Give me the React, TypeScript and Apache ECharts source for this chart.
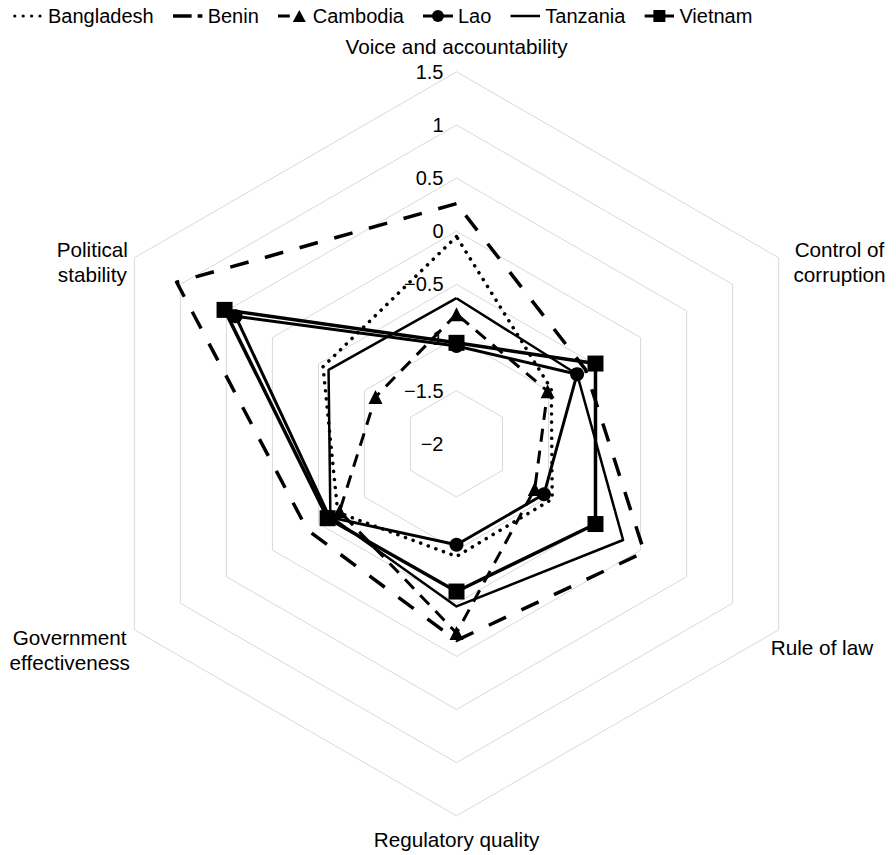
import React, { useEffect, useRef } from 'react';
import * as echarts from 'echarts';

// Indicator order as ECharts lays them out (counter-clockwise from the top)
const indicatorNames = [
  'Voice and accountability',
  'Political stability',
  'Government effectiveness',
  'Regulatory quality',
  'Rule of law',
  'Control of corruption',
];
const axisMin = -2;
const axisMax = 1.5;
const axisSplits = 7;

const countries = ['Bangladesh', 'Benin', 'Cambodia', 'Lao', 'Tanzania', 'Vietnam'];

// values in indicator order: Voice, PolStab, GovEff, RegQ, RoL, CoC
const bangladesh = [-0.05, -0.55, -0.71, -0.94, -0.96, -0.97];
const benin = [0.26, 1.04, -0.38, -0.15, 0.04, -0.6];
const cambodia = [-0.78, -1.12, -0.73, -0.22, -1.15, -1.01];
const lao = [-1.08, 0.4, -0.62, -1.05, -1.05, -0.69];
const tanzania = [-0.63, -0.61, -0.63, -0.47, -0.19, -0.69];
const vietnam = [-1.05, 0.52, -0.6, -0.61, -0.49, -0.49];

const seriesValues = [bangladesh, benin, cambodia, lao, tanzania, vietnam];

const FONT = '"Liberation Sans", Arial, Helvetica, sans-serif';

const seriesStyles: any[] = [
  { symbol: 'none', lineStyle: { type: [0.1, 8], cap: 'round', width: 3.5 } },
  { symbol: 'none', lineStyle: { type: [19, 17], width: 3.5 } },
  { symbol: 'triangle', symbolSize: 14, lineStyle: { type: [13, 9], width: 3 } },
  { symbol: 'circle', symbolSize: 14, lineStyle: { width: 3 } },
  { symbol: 'none', lineStyle: { width: 2.5 } },
  { symbol: 'rect', symbolSize: 16, lineStyle: { width: 3.5 } },
];

const svgIcon = (inner: string) =>
  'image://data:image/svg+xml;charset=utf-8,' +
  encodeURIComponent(
    `<svg xmlns="http://www.w3.org/2000/svg" width="30" height="16" viewBox="0 0 30 16">${inner}</svg>`
  );

const legendIcons = [
  svgIcon(
    '<circle cx="1.8" cy="8" r="1.6" fill="#000"/><circle cx="10.2" cy="8" r="1.6" fill="#000"/><circle cx="18.6" cy="8" r="1.6" fill="#000"/><circle cx="27" cy="8" r="1.6" fill="#000"/>'
  ),
  svgIcon(
    '<line x1="0" y1="8" x2="19" y2="8" stroke="#000" stroke-width="3.5"/><line x1="25" y1="8" x2="30" y2="8" stroke="#000" stroke-width="3.5"/>'
  ),
  svgIcon(
    '<line x1="0" y1="8" x2="12" y2="8" stroke="#000" stroke-width="3"/><polygon points="15,14 21.5,2 28,14" fill="#000"/>'
  ),
  svgIcon(
    '<line x1="0" y1="8" x2="30" y2="8" stroke="#000" stroke-width="3"/><circle cx="15" cy="8" r="6" fill="#000"/>'
  ),
  svgIcon('<line x1="0" y1="8" x2="30" y2="8" stroke="#000" stroke-width="2.5"/>'),
  svgIcon(
    '<line x1="0" y1="8" x2="30" y2="8" stroke="#000" stroke-width="3"/><rect x="9" y="2" width="12" height="12" fill="#000"/>'
  ),
];

// Axis-name placement (label layout, not data)
const nameLayout = [
  { text: 'Voice and accountability', x: 456.5, y: 46 },
  { text: 'Control of\ncorruption', x: 839.5, y: 261.5 },
  { text: 'Rule of law', x: 822, y: 647.5 },
  { text: 'Regulatory quality', x: 456.5, y: 839 },
  { text: 'Government\neffectiveness', x: 69.7, y: 650 },
  { text: 'Political\nstability', x: 92.3, y: 261.5 },
];

const fmtTick = (v: number) => (v < 0 ? '\u2212' + Math.abs(v) : String(v));

export default function App() {
  const ref = useRef<HTMLDivElement>(null);
  useEffect(() => {
    if (!ref.current) return;
    const chart = echarts.init(ref.current, null, { renderer: 'svg' });
    const option: any = {
      animation: false,
      backgroundColor: '#fff',
      textStyle: { fontFamily: FONT },
      legend: {
        left: 8,
        top: 1,
        itemWidth: 30,
        itemHeight: 16,
        itemGap: 19,
        textStyle: { fontSize: 20, color: '#000', fontFamily: FONT },
        data: countries.map((c, i) => ({ name: c, icon: legendIcons[i] })),
      },
      radar: {
        center: [456.5, 443.8],
        radius: 372,
        shape: 'polygon',
        splitNumber: axisSplits,
        startAngle: 90,
        axisName: { show: false },
        axisLine: { show: false },
        axisTick: { show: false },
        splitArea: { show: false },
        splitLine: { lineStyle: { color: '#d9d9d9', width: 1 } },
        axisLabel: {
          show: true,
          margin: 13,
          fontSize: 20,
          color: '#000',
          fontFamily: FONT,
          showMinLabel: true,
          showMaxLabel: true,
          formatter: fmtTick,
        },
        indicator: indicatorNames.map((n, i) =>
          i === 0
            ? { name: n, min: axisMin, max: axisMax }
            : { name: n, min: axisMin, max: axisMax, axisLabel: { show: false } }
        ),
      },
      graphic: nameLayout.map((l) => ({
        type: 'text',
        x: l.x,
        y: l.y,
        silent: true,
        style: {
          text: l.text,
          fill: '#000',
          fontSize: 20.7,
          fontFamily: FONT,
          lineHeight: 25,
          textAlign: 'center',
          textVerticalAlign: 'middle',
        },
      })),
      series: countries.map((c, i) => ({
        type: 'radar',
        name: c,
        symbol: seriesStyles[i].symbol,
        symbolSize: seriesStyles[i].symbolSize || 4,
        itemStyle: { color: '#000' },
        lineStyle: { color: '#000', ...seriesStyles[i].lineStyle },
        emphasis: { disabled: true },
        data: [{ name: c, value: seriesValues[i] }],
      })),
    };
    chart.setOption(option);
    return () => chart.dispose();
  }, []);
  return (
    <div
      ref={ref}
      style={{ position: 'fixed', left: 0, top: 0, width: 896, height: 855 }}
    />
  );
}
